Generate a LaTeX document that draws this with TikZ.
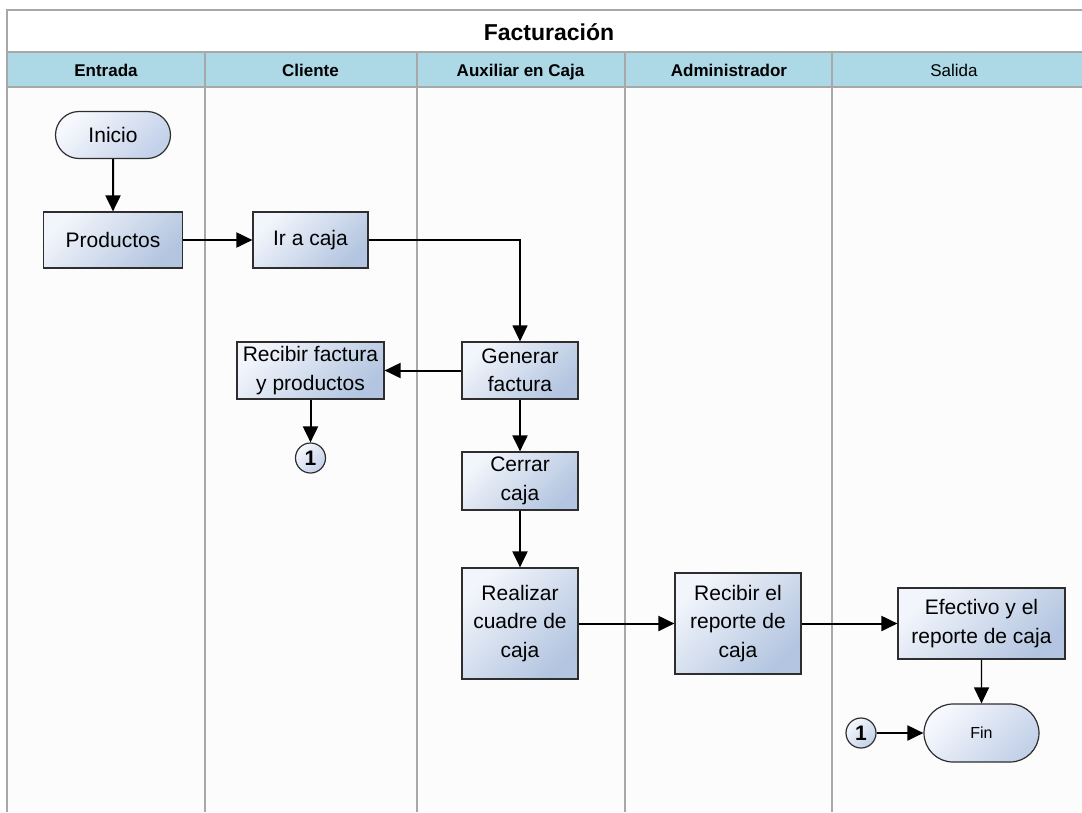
\documentclass[tikz,border=0pt]{standalone}
\usepackage{fontspec}
\setmainfont{Liberation Sans}
\usetikzlibrary{shapes.misc,arrows.meta}
\definecolor{lanehead}{HTML}{ADD8E6}
\definecolor{bodybg}{HTML}{FCFCFC}
\definecolor{frameline}{HTML}{A8A8A8}
\definecolor{boxline}{HTML}{2E2E2E}
\definecolor{boxlight}{HTML}{F2F5FB}
\definecolor{boxdark}{HTML}{B3C5E0}
\definecolor{termlight}{HTML}{F6F8FD}
\definecolor{termdark}{HTML}{C3D1E9}
\tikzset{
  procbox/.style={draw=boxline, line width=1.2pt, top color=boxlight, bottom color=boxdark,
    shading angle=45, align=center, inner sep=0pt,
    font=\fontsize{21}{28.5}\selectfont},
  termbox/.style={draw=boxline, line width=1.2pt, rounded rectangle, top color=termlight,
    bottom color=termdark, shading angle=45, inner sep=0pt},
  linkcirc/.style={circle, draw=boxline, line width=1.2pt, top color=termlight, bottom color=termdark,
    shading angle=45, minimum size=30pt, inner sep=0pt, font=\fontsize{21}{22}\selectfont\bfseries},
  flow/.style={line width=2pt, -{Triangle[length=16pt,width=15pt]}},
  thinflow/.style={line width=1.2pt, -{Triangle[length=16pt,width=15pt]}},
  lanetext/.style={anchor=base, font=\fontsize{17}{18}\selectfont\bfseries},
  lanerule/.style={draw=frameline, line width=2pt},
}
\begin{document}
\begin{tikzpicture}[x=1pt,y=-1pt]
\useasboundingbox (0,0) rectangle (1082,812);
\fill[white] (0,0) rectangle (1082,812);
% pool: title row, lane header row and lane bodies
\fill[bodybg] (7,87) rectangle (1095,812);
\fill[lanehead] (7,52) rectangle (1095,87);
\draw[draw=frameline, line width=1.5pt] (1095,10) -- (7,10) -- (7,812);
\draw[lanerule] (7,52) -- (1095,52);
\draw[lanerule] (7,87) -- (1095,87);
\foreach \lx in {204.5,416.5,625,832}
  \draw[lanerule] (\lx,52) -- (\lx,812);

\node[anchor=base, font=\fontsize{23}{25}\selectfont\bfseries] (title) at (549,40) {Facturación};
\node[lanetext] (hEntrada) at (106,76) {Entrada};
\node[lanetext] (hCliente) at (310.5,76) {Cliente};
\node[lanetext] (hAux) at (520.5,76) {Auxiliar en Caja};
\node[lanetext] (hAdmin) at (729,76) {Administrador};
\node[anchor=base, font=\fontsize{17}{18}\selectfont] (hSalida) at (954,76) {Salida};

% flow nodes
\node[termbox, minimum width=115pt, minimum height=47pt, font=\fontsize{21}{22}\selectfont] (inicio) at (113,135) {Inicio};
\node[procbox, minimum width=139pt, minimum height=56pt] (prod) at (113,240) {Productos};
\node[procbox, minimum width=115pt, minimum height=56pt] (ircaja) at (310.5,240) {Ir a caja};
\node[procbox, minimum width=116pt, minimum height=57pt] (generar) at (520,370.5) {Generar\\factura};
\node[procbox, minimum width=147pt, minimum height=57pt] (recibir) at (310.5,370.5) {Recibir factura\\y productos};
\node[linkcirc] (linkA) at (310.5,458) {1};
\node[procbox, minimum width=116pt, minimum height=58pt] (cerrar) at (520,481) {Cerrar\\caja};
\node[procbox, minimum width=116pt, minimum height=111pt] (realizar) at (520,623.5) {Realizar\\cuadre de\\caja};
\node[procbox, minimum width=126pt, minimum height=101pt] (recrep) at (738,623.5) {Recibir el\\reporte de\\caja};
\node[procbox, minimum width=167pt, minimum height=71pt] (efect) at (981.5,623.5) {Efectivo y el\\reporte de caja};
\node[termbox, minimum width=115pt, minimum height=58pt, font=\fontsize{16}{18}\selectfont] (fin) at (981.5,733) {Fin};
\node[linkcirc] (linkB) at (861,733) {1};

% connectors
\draw[flow] (inicio) -- (prod);
\draw[flow] (prod) -- (ircaja);
\draw[thinflow] (ircaja.east) -| (generar.north);
\draw[flow] (generar) -- (recibir);
\draw[flow] (recibir) -- (linkA);
\draw[flow] (generar) -- (cerrar);
\draw[flow] (cerrar) -- (realizar);
\draw[flow] (realizar) -- (recrep);
\draw[flow] (recrep) -- (efect);
\draw[thinflow] (efect) -- (fin);
\draw[flow] (linkB) -- (fin);
\end{tikzpicture}
\end{document}
